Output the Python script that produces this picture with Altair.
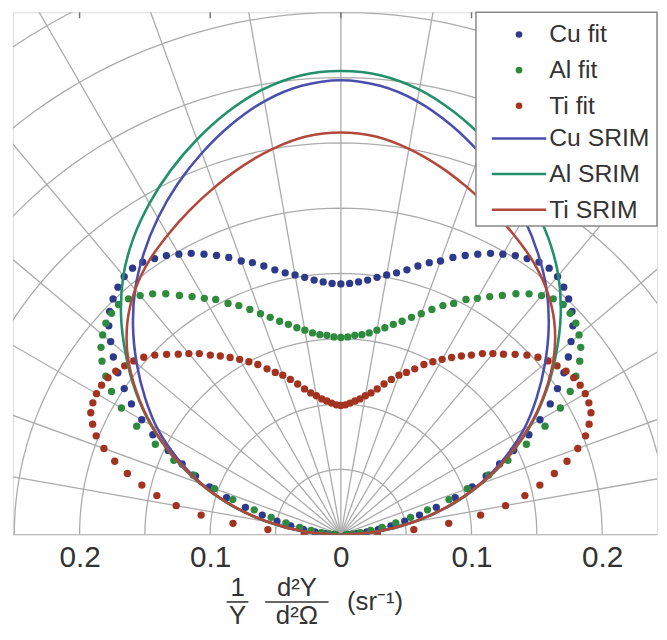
import altair as alt
import pandas as pd
import numpy as np

# ---------------- data ----------------
# polar angle measured from the surface normal (degrees), radius in sr^-1
fit_angles = list(range(0, 90, 2))
cu_fit = [0.192, 0.1925, 0.194, 0.196, 0.199, 0.202, 0.205, 0.209, 0.214, 0.219,
          0.223, 0.229, 0.234, 0.239, 0.244, 0.248, 0.252, 0.255, 0.258, 0.259,
          0.258, 0.255, 0.251, 0.246, 0.239, 0.230, 0.221, 0.211, 0.200, 0.189,
          0.176, 0.163, 0.147, 0.133, 0.120, 0.107, 0.092, 0.076, 0.062, 0.050,
          0.039, 0.029, 0.020, 0.012, 0.005]
al_fit = [0.151, 0.1515, 0.153, 0.154, 0.156, 0.159, 0.162, 0.166, 0.170, 0.175,
          0.180, 0.186, 0.192, 0.197, 0.204, 0.209, 0.215, 0.221, 0.228, 0.234,
          0.239, 0.243, 0.245, 0.244, 0.242, 0.238, 0.233, 0.226, 0.217, 0.207,
          0.194, 0.177, 0.158, 0.140, 0.122, 0.103, 0.087, 0.069, 0.055, 0.043,
          0.032, 0.023, 0.015, 0.009, 0.004]
ti_fit = [0.099, 0.0995, 0.101, 0.103, 0.105, 0.108, 0.111, 0.115, 0.120, 0.125,
          0.130, 0.134, 0.139, 0.145, 0.150, 0.155, 0.160, 0.165, 0.170, 0.176,
          0.181, 0.186, 0.192, 0.198, 0.203, 0.207, 0.210, 0.213, 0.215, 0.216,
          0.216, 0.215, 0.213, 0.208, 0.202, 0.193, 0.182, 0.170, 0.157, 0.144,
          0.128, 0.108, 0.083, 0.056, 0.028]

srim_angles = list(range(0, 91, 5))
cu_srim = [0.348, 0.345, 0.337, 0.325, 0.311, 0.296, 0.280, 0.263, 0.245, 0.225,
           0.204, 0.183, 0.162, 0.138, 0.113, 0.086, 0.057, 0.028, 0.0]
al_srim = [0.355, 0.353, 0.346, 0.335, 0.322, 0.308, 0.293, 0.277, 0.259, 0.238,
           0.215, 0.192, 0.168, 0.142, 0.115, 0.087, 0.058, 0.029, 0.0]
ti_srim = [0.308, 0.306, 0.300, 0.292, 0.283, 0.274, 0.265, 0.256, 0.245, 0.231,
           0.213, 0.191, 0.167, 0.141, 0.114, 0.086, 0.057, 0.028, 0.0]

fit_names = ["Cu fit", "Al fit", "Ti fit"]
srim_names = ["Cu SRIM", "Al SRIM", "Ti SRIM"]
fit_colors = ["#2d3a8c", "#2e8a3c", "#a3321f"]
srim_colors = ["#4a4fae", "#22906a", "#b3473a"]

tick_values = [-0.2, -0.1, 0.0, 0.1, 0.2]


def polar_rows(name, angles, values):
    rows = []
    seq = [(-a, r) for a, r in zip(angles[::-1], values[::-1]) if a != 0]
    seq += list(zip(angles, values))
    for i, (a, r) in enumerate(seq):
        t = np.radians(a)
        rows.append({"series": name, "i": i, "x": r * np.sin(t), "y": r * np.cos(t)})
    return rows


fit_rows = []
for n, v in zip(fit_names, [cu_fit, al_fit, ti_fit]):
    fit_rows += polar_rows(n, fit_angles, v)
fit_df = pd.DataFrame(fit_rows)

srim_rows = []
for n, v in zip(srim_names, [cu_srim, al_srim, ti_srim]):
    srim_rows += polar_rows(n, srim_angles, v)
srim_df = pd.DataFrame(srim_rows)

# ---------------- polar grid (decoration) ----------------
grid_rows = []
for k in range(1, 10):
    r = 0.05 * k
    for j, a in enumerate(range(-90, 91, 2)):
        t = np.radians(a)
        grid_rows.append({"g": f"c{k}", "i": j, "x": r * np.sin(t), "y": r * np.cos(t)})
for a in range(-90, 91, 10):
    t = np.radians(a)
    grid_rows.append({"g": f"r{a}", "i": 0, "x": 0.0, "y": 0.0})
    grid_rows.append({"g": f"r{a}", "i": 1, "x": 0.5 * np.sin(t), "y": 0.5 * np.cos(t)})
grid_df = pd.DataFrame(grid_rows)

XDOM = [-0.251, 0.242]
YDOM = [0.0, 0.4]
W, H = 651, 528

xs = alt.Scale(domain=XDOM, nice=False, zero=False)
ys = alt.Scale(domain=YDOM, nice=False, zero=False)

xaxis = alt.Axis(values=tick_values, grid=False, ticks=False, domain=False,
                 labelExpr="datum.value == 0 ? '0' : format(abs(datum.value), '.1f')",
                 labelFontSize=30, labelFont="Liberation Sans", labelColor="#333333",
                 labelPadding=8, title=None)

grid = alt.Chart(grid_df).mark_line(color="#ababab", strokeWidth=1.3, clip=True).encode(
    x=alt.X("x:Q", scale=xs, axis=xaxis),
    y=alt.Y("y:Q", scale=ys, axis=None),
    detail="g:N",
    order="i:Q",
)

# small inward ticks at the top frame
tick_df = pd.DataFrame({"x": tick_values})
top_ticks = alt.Chart(tick_df).mark_rule(color="#777777", strokeWidth=1.5).encode(
    x=alt.X("x:Q", scale=xs), y=alt.value(0), y2=alt.value(6))

dots = alt.Chart(fit_df).mark_circle(size=55, opacity=1, clip=True).encode(
    x=alt.X("x:Q", scale=xs),
    y=alt.Y("y:Q", scale=ys),
    color=alt.Color("series:N",
                    scale=alt.Scale(domain=fit_names, range=fit_colors),
                    legend=alt.Legend(orient="none", legendX=499, legendY=10, title=None,
                                      symbolType="circle", symbolSize=45,
                                      symbolStrokeWidth=0, labelFontSize=25,
                                      labelFont="Liberation Sans", labelColor="#333333",
                                      labelOffset=18, rowPadding=10, padding=0)),
    detail="i:Q",
)

lines = alt.Chart(srim_df).mark_line(strokeWidth=2.6, interpolate="catmull-rom", clip=True).encode(
    x=alt.X("x:Q", scale=xs),
    y=alt.Y("y:Q", scale=ys),
    stroke=alt.Stroke("series:N",
                      scale=alt.Scale(domain=srim_names, range=srim_colors),
                      legend=alt.Legend(orient="none", legendX=499, legendY=115, title=None,
                                        symbolType="M-5,0H5", symbolSize=121,
                                        symbolStrokeWidth=2.6, labelFontSize=25,
                                        labelFont="Liberation Sans", labelColor="#333333",
                                        labelOffset=18, rowPadding=10, padding=0)),
    order="i:Q",
)

legend_box = alt.Chart(pd.DataFrame({"a": [0]})).mark_rect(
    fill="white", stroke="#888888", strokeWidth=1.5).encode(
    x=alt.value(468), x2=alt.value(W), y=alt.value(0), y2=alt.value(216))

# axis title: 1/Y * d^2Y/d^2Omega (sr^-1)
tfont = dict(font="Liberation Sans", fontSize=26, color="#333333", align="center", baseline="middle")
title_df = pd.DataFrame({"a": [0]})
t1 = alt.Chart(title_df).mark_text(text="1", **tfont).encode(x=alt.value(227), y=alt.value(582))
t2 = alt.Chart(title_df).mark_text(text="Y", **tfont).encode(x=alt.value(227), y=alt.value(610))
t3 = alt.Chart(title_df).mark_text(text="d²Y", **tfont).encode(x=alt.value(287), y=alt.value(582))
t4 = alt.Chart(title_df).mark_text(text="d²Ω", **tfont).encode(x=alt.value(287), y=alt.value(610))
t5 = alt.Chart(title_df).mark_text(text="(sr⁻¹)", **tfont).encode(x=alt.value(366), y=alt.value(596))
b1 = alt.Chart(title_df).mark_rule(color="#333333", strokeWidth=1.6).encode(
    x=alt.value(216), x2=alt.value(238), y=alt.value(596))
b2 = alt.Chart(title_df).mark_rule(color="#333333", strokeWidth=1.6).encode(
    x=alt.value(255), x2=alt.value(319), y=alt.value(596))

chart = alt.layer(grid, top_ticks, dots, lines, legend_box,
                  t1, t2, t3, t4, t5, b1, b2).resolve_scale(
    color="independent", stroke="independent"
).properties(
    width=W, height=H,
    autosize=alt.AutoSizeParams(type="none"),
    padding={"left": 5, "top": 1, "right": 2, "bottom": 92},
).configure_view(stroke="#7a7a7a", strokeWidth=2).configure(background="white")

chart.save("out.html", embed_options={"renderer": "svg", "actions": False})
